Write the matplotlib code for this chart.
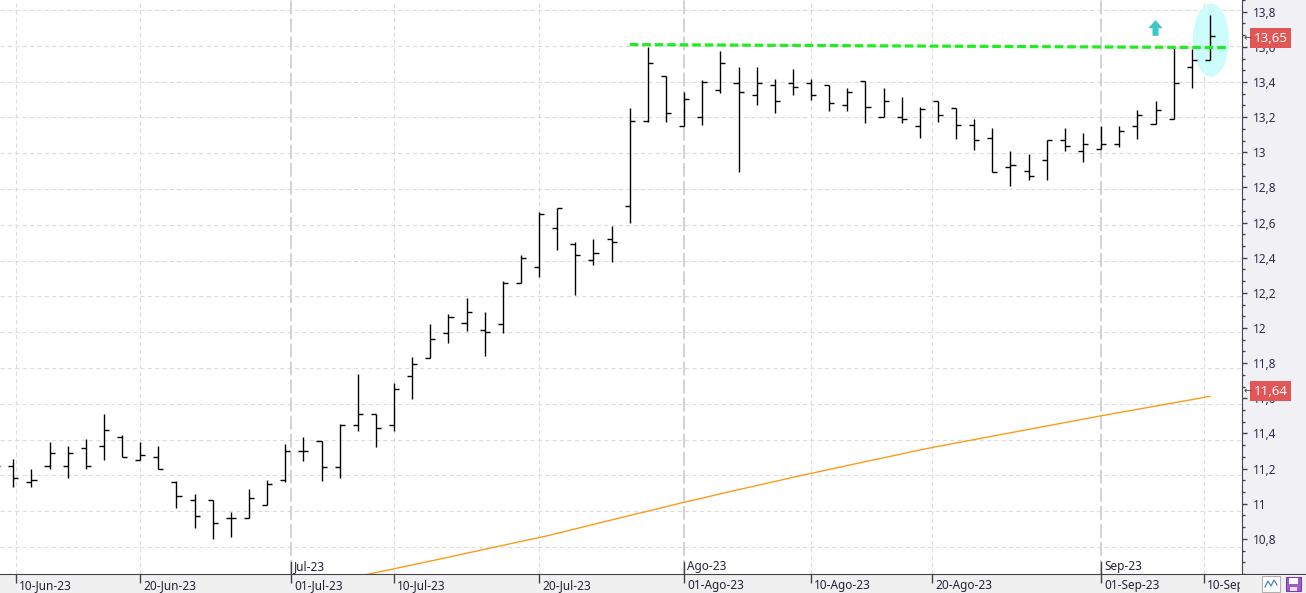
import numpy as np
import matplotlib
matplotlib.use("Agg")
import matplotlib.pyplot as plt
from matplotlib.patches import Ellipse, FancyArrow, Rectangle
from matplotlib.transforms import blended_transform_factory, ScaledTranslation

plt.rcParams['font.family'] = ['Noto Sans', 'DejaVu Sans']
plt.rcParams['lines.scale_dashes'] = False

# barras diarias (indice de sesion, 0 = 09-Jun-23)
idx = np.arange(-1, 67)
opens = [11.26, 11.250, 11.163, 11.250, 11.250, 11.351, 11.362, 11.414, 11.284, 11.301,
         11.165, 11.062, 11.062, 10.960, 10.960, 11.033, 11.172, 11.336, 11.392, 11.245,
         11.480, 11.541, 11.480, 11.753, 11.858, 11.994, 12.050, 12.012, 12.046, 12.273,
         12.362, 12.580, 12.495, 12.401, 12.519, 12.703, 13.178, 13.429, 13.150, 13.200,
         13.351, 13.390, 13.323, 13.379, 13.390, 13.390, 13.379, 13.271, 13.402, 13.200,
         13.200, 13.150, 13.290, 13.251, 13.159, 13.083, 12.921, 12.899, 12.960, 13.072,
         13.010, 13.022, 13.050, 13.150, 13.161, 13.189, 13.480, 13.519]
highs = [11.30, 11.290, 11.234, 11.385, 11.362, 11.401, 11.541, 11.424, 11.385, 11.362,
         11.170, 11.094, 11.062, 10.994, 11.122, 11.172, 11.377, 11.413, 11.392, 11.489,
         11.766, 11.541, 11.716, 11.861, 12.046, 12.102, 12.191, 12.113, 12.286, 12.429,
         12.670, 12.692, 12.502, 12.519, 12.591, 13.252, 13.595, 13.429, 13.342, 13.409,
         13.571, 13.480, 13.480, 13.413, 13.469, 13.413, 13.379, 13.362, 13.402, 13.362,
         13.312, 13.260, 13.290, 13.251, 13.189, 13.139, 13.010, 12.994, 13.072, 13.139,
         13.111, 13.152, 13.150, 13.240, 13.290, 13.587, 13.583, 13.772]
lows = [11.22, 11.133, 11.133, 11.234, 11.183, 11.234, 11.288, 11.301, 11.284, 11.234,
        11.020, 10.904, 10.843, 10.854, 10.960, 11.033, 11.161, 11.282, 11.171, 11.184,
        11.450, 11.361, 11.450, 11.629, 11.858, 11.941, 12.009, 11.869, 11.994, 12.273,
        12.310, 12.461, 12.210, 12.374, 12.390, 12.612, 13.172, 13.176, 13.150, 13.159,
        13.338, 12.897, 13.271, 13.226, 13.327, 13.299, 13.238, 13.238, 13.171, 13.200,
        13.171, 13.087, 13.176, 13.081, 13.020, 12.897, 12.819, 12.848, 12.848, 13.010,
        12.949, 13.022, 13.033, 13.081, 13.161, 13.189, 13.367, 13.519]
closes = [11.251, 11.183, 11.172, 11.325, 11.325, 11.250, 11.452, 11.301, 11.312, 11.234,
          11.083, 10.971, 10.932, 10.960, 11.072, 11.150, 11.334, 11.336, 11.245, 11.480,
          11.541, 11.463, 11.681, 11.820, 11.960, 12.083, 12.111, 11.999, 12.275, 12.413,
          12.658, 12.692, 12.429, 12.441, 12.502, 13.178, 13.502, 13.223, 13.301, 13.400,
          13.502, 13.340, 13.390, 13.290, 13.368, 13.323, 13.279, 13.340, 13.260, 13.290,
          13.189, 13.249, 13.212, 13.159, 13.072, 12.897, 12.932, 12.871, 13.072, 13.038,
          13.050, 13.050, 13.122, 13.212, 13.240, 13.391, 13.520, 13.656]

# media movil (naranja)
ma_idx = np.arange(19, 67)
ma_vals = [10.635, 10.657, 10.678, 10.700, 10.721, 10.743, 10.765, 10.787, 10.809, 10.831,
           10.852, 10.876, 10.901, 10.926, 10.951, 10.976, 11.000, 11.025, 11.050, 11.073,
           11.097, 11.120, 11.143, 11.166, 11.189, 11.211, 11.233, 11.255, 11.277, 11.298,
           11.320, 11.342, 11.362, 11.381, 11.400, 11.419, 11.438, 11.457, 11.476, 11.495,
           11.514, 11.533, 11.551, 11.569, 11.587, 11.605, 11.623, 11.642]

# resistencia (linea verde)
trend_idx = [34, 67]
trend_vals = [13.607, 13.590]

tick_pos = [0.13, 7, 15.33, 21, 29, 37, 44, 50.67, 60, 65.67]
tick_lab = ['10-Jun-23', '20-Jun-23', '01-Jul-23', '10-Jul-23', '20-Jul-23',
            '01-Ago-23', '10-Ago-23', '20-Ago-23', '01-Sep-23', '10-Sep-23']
month_pos = [15.33, 37, 60]
month_lab = ['Jul-23', 'Ago-23', 'Sep-23']

y_major = np.round(np.arange(10.8, 13.81, 0.2), 1)
last_price = 13.65
ma_last = 11.64

W, H = 1306, 593
fig = plt.figure(figsize=(W / 100, H / 100), dpi=100, facecolor='#f0f0f0')
ax = fig.add_axes([0, 19 / H, 1242 / W, 574 / H], zorder=1)
rp = fig.add_axes([1242 / W, 19 / H, 64 / W, 574 / H], zorder=2)

ylim = (10.649, 13.856)
ax.set_xlim(-0.734, 67.77)
ax.set_ylim(*ylim)
ax.set_facecolor('white')
for s in ['top', 'left', 'right']:
    ax.spines[s].set_visible(False)
ax.spines['bottom'].set_color('#444444')
ax.set_yticks([])

# rejilla
for v in y_major:
    ax.axhline(v, color='#dcdcdc', lw=0.8, ls=(0, (3.0, 2.3)), zorder=0)
for p in tick_pos:
    if p in month_pos:
        ax.axvline(p, color='#d2d2d2', lw=1.4, ls=(0, (10, 3)), zorder=0)
        ax.axvline(p, ymin=0, ymax=12 / 574, color='#444444', lw=1.0, zorder=0)
    else:
        ax.axvline(p, color='#dcdcdc', lw=0.8, ls=(0, (3.0, 2.3)), zorder=0)

# marca de ruptura
ax.add_patch(Ellipse((66.06, 13.632), 1.99, 0.408, facecolor='#ccfcfc', edgecolor='none', zorder=1))
ax.add_patch(FancyArrow(63.0, 13.656, 0, 0.088, width=0.33, head_width=0.77, head_length=0.045,
                        length_includes_head=True, color='#3cc6c6', lw=0, zorder=4))

# media movil
ax.plot(ma_idx, ma_vals, color='#ff9a1a', lw=1.0, zorder=2)

# barras OHLC
tl = 0.28
ax.vlines(idx, lows, highs, color='black', lw=1.0, zorder=3)
ax.hlines(opens, idx - tl, idx, color='black', lw=1.0, zorder=3)
ax.hlines(closes, idx, idx + tl, color='black', lw=1.0, zorder=3)

# resistencia
ax.plot(trend_idx, trend_vals, color='#1eee1e', lw=2.3, ls=(0, (6.2, 2.8)),
        dash_capstyle='butt', zorder=4)

# eje de fechas
ax.set_xticks(tick_pos)
ax.tick_params(axis='x', length=6.5, width=1.0, color='#444444', labelbottom=False)
tr = blended_transform_factory(ax.transData, ax.transAxes)
off_lab = tr + ScaledTranslation(0.03, -0.05, fig.dpi_scale_trans)
off_mon = tr + ScaledTranslation(0.03, 0.04, fig.dpi_scale_trans)
for p, lab in zip(tick_pos, tick_lab):
    ax.text(p, 0, lab, transform=off_lab, ha='left', va='top', fontsize=8.5,
            color='#222233', clip_on=False)
for p, lab in zip(month_pos, month_lab):
    ax.text(p, 0, lab, transform=off_mon, ha='left', va='baseline', fontsize=8.5,
            color='#222233')

# panel de precios
rp.set_facecolor('#f1f1f5')
rp.set_xlim(0, 1)
rp.set_ylim(*ylim)
for s in ['top', 'right']:
    rp.spines[s].set_visible(False)
rp.spines['left'].set_color('#444444')
rp.spines['bottom'].set_color('#444444')
rp.set_xticks([])
ylabels = [('%.1f' % v).rstrip('0').rstrip('.').replace('.', ',') for v in y_major]
rp.set_yticks(y_major, labels=ylabels)
rp.set_yticks(np.arange(10.6, 13.9, 0.2 / 3), minor=True)
rp.tick_params(axis='y', which='major', direction='in', length=3.8, width=1.0,
               color='#444444', pad=-8, labelsize=8.5, labelcolor='#2a2a44')
rp.tick_params(axis='y', which='minor', direction='in', length=2.4, width=1.0, color='#444444')
for t in rp.get_yticklabels():
    t.set_horizontalalignment('left')

tr2 = blended_transform_factory(rp.transAxes, rp.transData)
for val, txt in [(last_price, '13,65'), (ma_last, '11,64')]:
    rp.text(0.18, val, txt, transform=tr2, ha='left', va='center', fontsize=9.5, color='white',
            bbox=dict(boxstyle='square,pad=0.28', fc='#e35656', ec='none'), zorder=5)
    rp.text(0.025, val, '←', transform=tr2, ha='left', va='center', fontsize=7,
            color='#444444', family='DejaVu Sans', zorder=5)

# tapa bajo el panel derecho + iconos
fig.add_artist(Rectangle((1240 / W, 0), 66 / W, 18.5 / H, transform=fig.transFigure,
                         fc='#f0f0f0', ec='none', zorder=3))
fig.add_artist(Rectangle((1262 / W, 1 / H), 18 / W, 16 / H, transform=fig.transFigure,
                         fc='white', ec='#b0b0b0', lw=0.8, zorder=4))
fig.add_artist(plt.Line2D(np.array([1265, 1268, 1271, 1274, 1277]) / W,
                          np.array([6, 12, 7, 13, 8]) / H, transform=fig.transFigure,
                          color='#5080c0', lw=0.9, zorder=5))
fig.add_artist(Rectangle((1286 / W, 2 / H), 15 / W, 14 / H, transform=fig.transFigure,
                         fc='#9a5cc8', ec='#7a3ca8', lw=0.8, zorder=4))
fig.add_artist(Rectangle((1289 / W, 9 / H), 9 / W, 6 / H, transform=fig.transFigure,
                         fc='white', ec='none', zorder=5))
fig.add_artist(Rectangle((1290 / W, 2 / H), 7 / W, 4 / H, transform=fig.transFigure,
                         fc='#e8e0f0', ec='none', zorder=5))

fig.savefig('out.png', dpi=100, facecolor=fig.get_facecolor())
